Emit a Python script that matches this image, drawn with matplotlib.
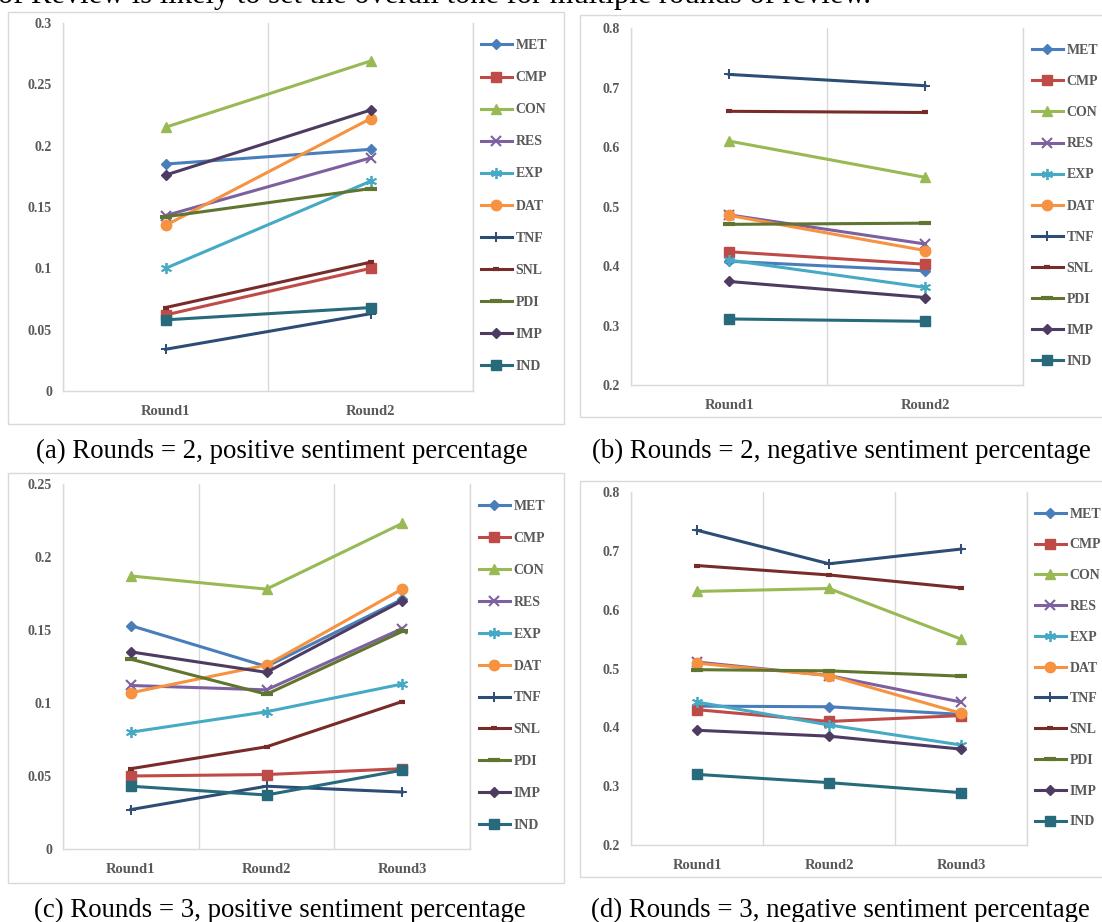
import numpy as np
import matplotlib.pyplot as plt
from matplotlib.patches import Rectangle
from matplotlib.font_manager import FontProperties

plt.rcParams['font.family'] = ['Liberation Serif', 'DejaVu Serif']

W, H = 1102, 922

aspects = ['MET', 'CMP', 'CON', 'RES', 'EXP', 'DAT', 'TNF', 'SNL', 'PDI', 'IMP', 'IND']
rounds2 = ['Round1', 'Round2']
rounds3 = ['Round1', 'Round2', 'Round3']

# (a) rounds = 2, positive
pos2 = [[0.185, 0.197], [0.062, 0.100], [0.215, 0.269], [0.143, 0.190],
        [0.100, 0.171], [0.135, 0.222], [0.034, 0.063], [0.068, 0.105],
        [0.142, 0.165], [0.176, 0.229], [0.058, 0.068]]
# (b) rounds = 2, negative
neg2 = [[0.408, 0.392], [0.424, 0.403], [0.610, 0.549], [0.486, 0.437],
        [0.410, 0.364], [0.485, 0.426], [0.722, 0.703], [0.660, 0.658],
        [0.470, 0.472], [0.374, 0.347], [0.311, 0.307]]
# (c) rounds = 3, positive
pos3 = [[0.153, 0.125, 0.171], [0.050, 0.051, 0.055], [0.187, 0.178, 0.223],
        [0.112, 0.109, 0.151], [0.080, 0.094, 0.113], [0.107, 0.126, 0.178],
        [0.027, 0.043, 0.039], [0.055, 0.070, 0.101], [0.130, 0.106, 0.149],
        [0.135, 0.121, 0.170], [0.043, 0.037, 0.054]]
# (d) rounds = 3, negative
neg3 = [[0.436, 0.435, 0.422], [0.430, 0.410, 0.420], [0.631, 0.636, 0.550],
        [0.511, 0.488, 0.443], [0.443, 0.404, 0.370], [0.509, 0.488, 0.424],
        [0.735, 0.678, 0.703], [0.675, 0.659, 0.637], [0.498, 0.496, 0.487],
        [0.395, 0.385, 0.363], [0.320, 0.306, 0.289]]

captions = ['(a) Rounds = 2, positive sentiment percentage',
            '(b) Rounds = 2, negative sentiment percentage',
            '(c) Rounds = 3, positive sentiment percentage',
            '(d) Rounds = 3, negative sentiment percentage']

colors = ['#4A7EBB', '#BE4B48', '#98B954', '#7D60A0', '#46AAC5', '#F69240',
          '#2C4D75', '#772C2A', '#5F7530', '#4D3B62', '#276A7C']
markers = ['D', 's', '^', 'x', (6, 2, 0), 'o', '+', '_', '_', 'D', 's']
msizes = [5.5, 7, 7.5, 7, 8, 7.5, 7.5, 5, 9, 5.5, 7]
mews = [1, 1, 1, 1.5, 1.3, 1, 1.4, 3, 3, 1, 1]

GRID = '#D9D9D9'
TXT = '#595959'


def px_rect(l, t, r, b):
    return [l / W, 1 - b / H, (r - l) / W, (b - t) / H]


def draw_panel(fig, plot_px, box_px, vals, rounds, lo, hi, step, leg_xy, spacing, cap_xy, caption):
    ax = fig.add_axes(px_rect(*plot_px))
    n = len(rounds)
    x = np.arange(n) + 0.5
    for i, name in enumerate(aspects):
        ax.plot(x, vals[i], color=colors[i], lw=2.2, marker=markers[i],
                ms=msizes[i], mew=mews[i], mec=colors[i], mfc=colors[i],
                label=name, clip_on=False)
    ax.set_xlim(0, n)
    ax.set_ylim(lo, hi)
    ax.set_xticks(x, rounds)
    yt = np.arange(lo, hi + step / 2, step)
    ax.set_yticks(yt, ['%g' % round(v, 2) for v in yt])
    ax.set_xticks(np.arange(n + 1), minor=True)
    ax.grid(True, which='minor', axis='x', color=GRID, lw=1)
    ax.tick_params(which='both', length=0)
    ax.tick_params(axis='y', pad=8)
    ax.tick_params(axis='x', pad=10)
    for lab in ax.get_yticklabels():
        lab.set_fontweight('bold')
        lab.set_color(TXT)
        lab.set_fontsize(10)
    for lab in ax.get_xticklabels():
        lab.set_fontweight('bold')
        lab.set_color(TXT)
        lab.set_fontsize(10.5)
    ax.spines['top'].set_visible(False)
    for s in ['left', 'right', 'bottom']:
        ax.spines[s].set_color(GRID)
        ax.spines[s].set_linewidth(1)

    ax.legend(loc='center left', bbox_to_anchor=(leg_xy[0] / W, 1 - leg_xy[1] / H),
              bbox_transform=fig.transFigure, frameon=False, numpoints=1,
              prop=FontProperties(family='Liberation Serif', weight='bold', size=10),
              labelcolor=TXT, handlelength=2.2, handletextpad=0.3,
              labelspacing=spacing, borderpad=0, borderaxespad=0)

    l, t, r, b = box_px
    fig.add_artist(Rectangle((l / W, 1 - b / H), (r - l) / W, (b - t) / H,
                             transform=fig.transFigure, fill=False, ec=GRID, lw=1))
    fig.text(cap_xy[0] / W, 1 - cap_xy[1] / H, caption, ha='center', va='center',
             fontsize=19.3, color='black')
    return ax


fig = plt.figure(figsize=(W / 100, H / 100), dpi=100)

# cut-off line of body text above the figure
fig.text(-2 / W, 1 - 3 / H,
         'of Review is likely to set the overall tone for multiple rounds of review.',
         ha='left', va='baseline', fontsize=22, color='black')

draw_panel(fig, (63, 23, 473, 391), (8, 12, 564, 424), pos2, rounds2,
           0, 0.3, 0.05, (481, 206), 1.37, (282, 451), captions[0])
draw_panel(fig, (631, 28, 1023, 385), (580, 15, 1110, 417), neg2, rounds2,
           0.2, 0.8, 0.1, (1032, 206), 1.30, (841, 451), captions[1])
draw_panel(fig, (63, 484, 470, 849), (8, 473, 564, 883), pos3, rounds3,
           0, 0.25, 0.05, (479, 666), 1.36, (280, 910), captions[2])
draw_panel(fig, (631, 492, 1027, 845), (580, 481, 1110, 877), neg3, rounds3,
           0.2, 0.8, 0.1, (1035, 668), 1.28, (840, 910), captions[3])

fig.savefig('out.png', dpi=100)
